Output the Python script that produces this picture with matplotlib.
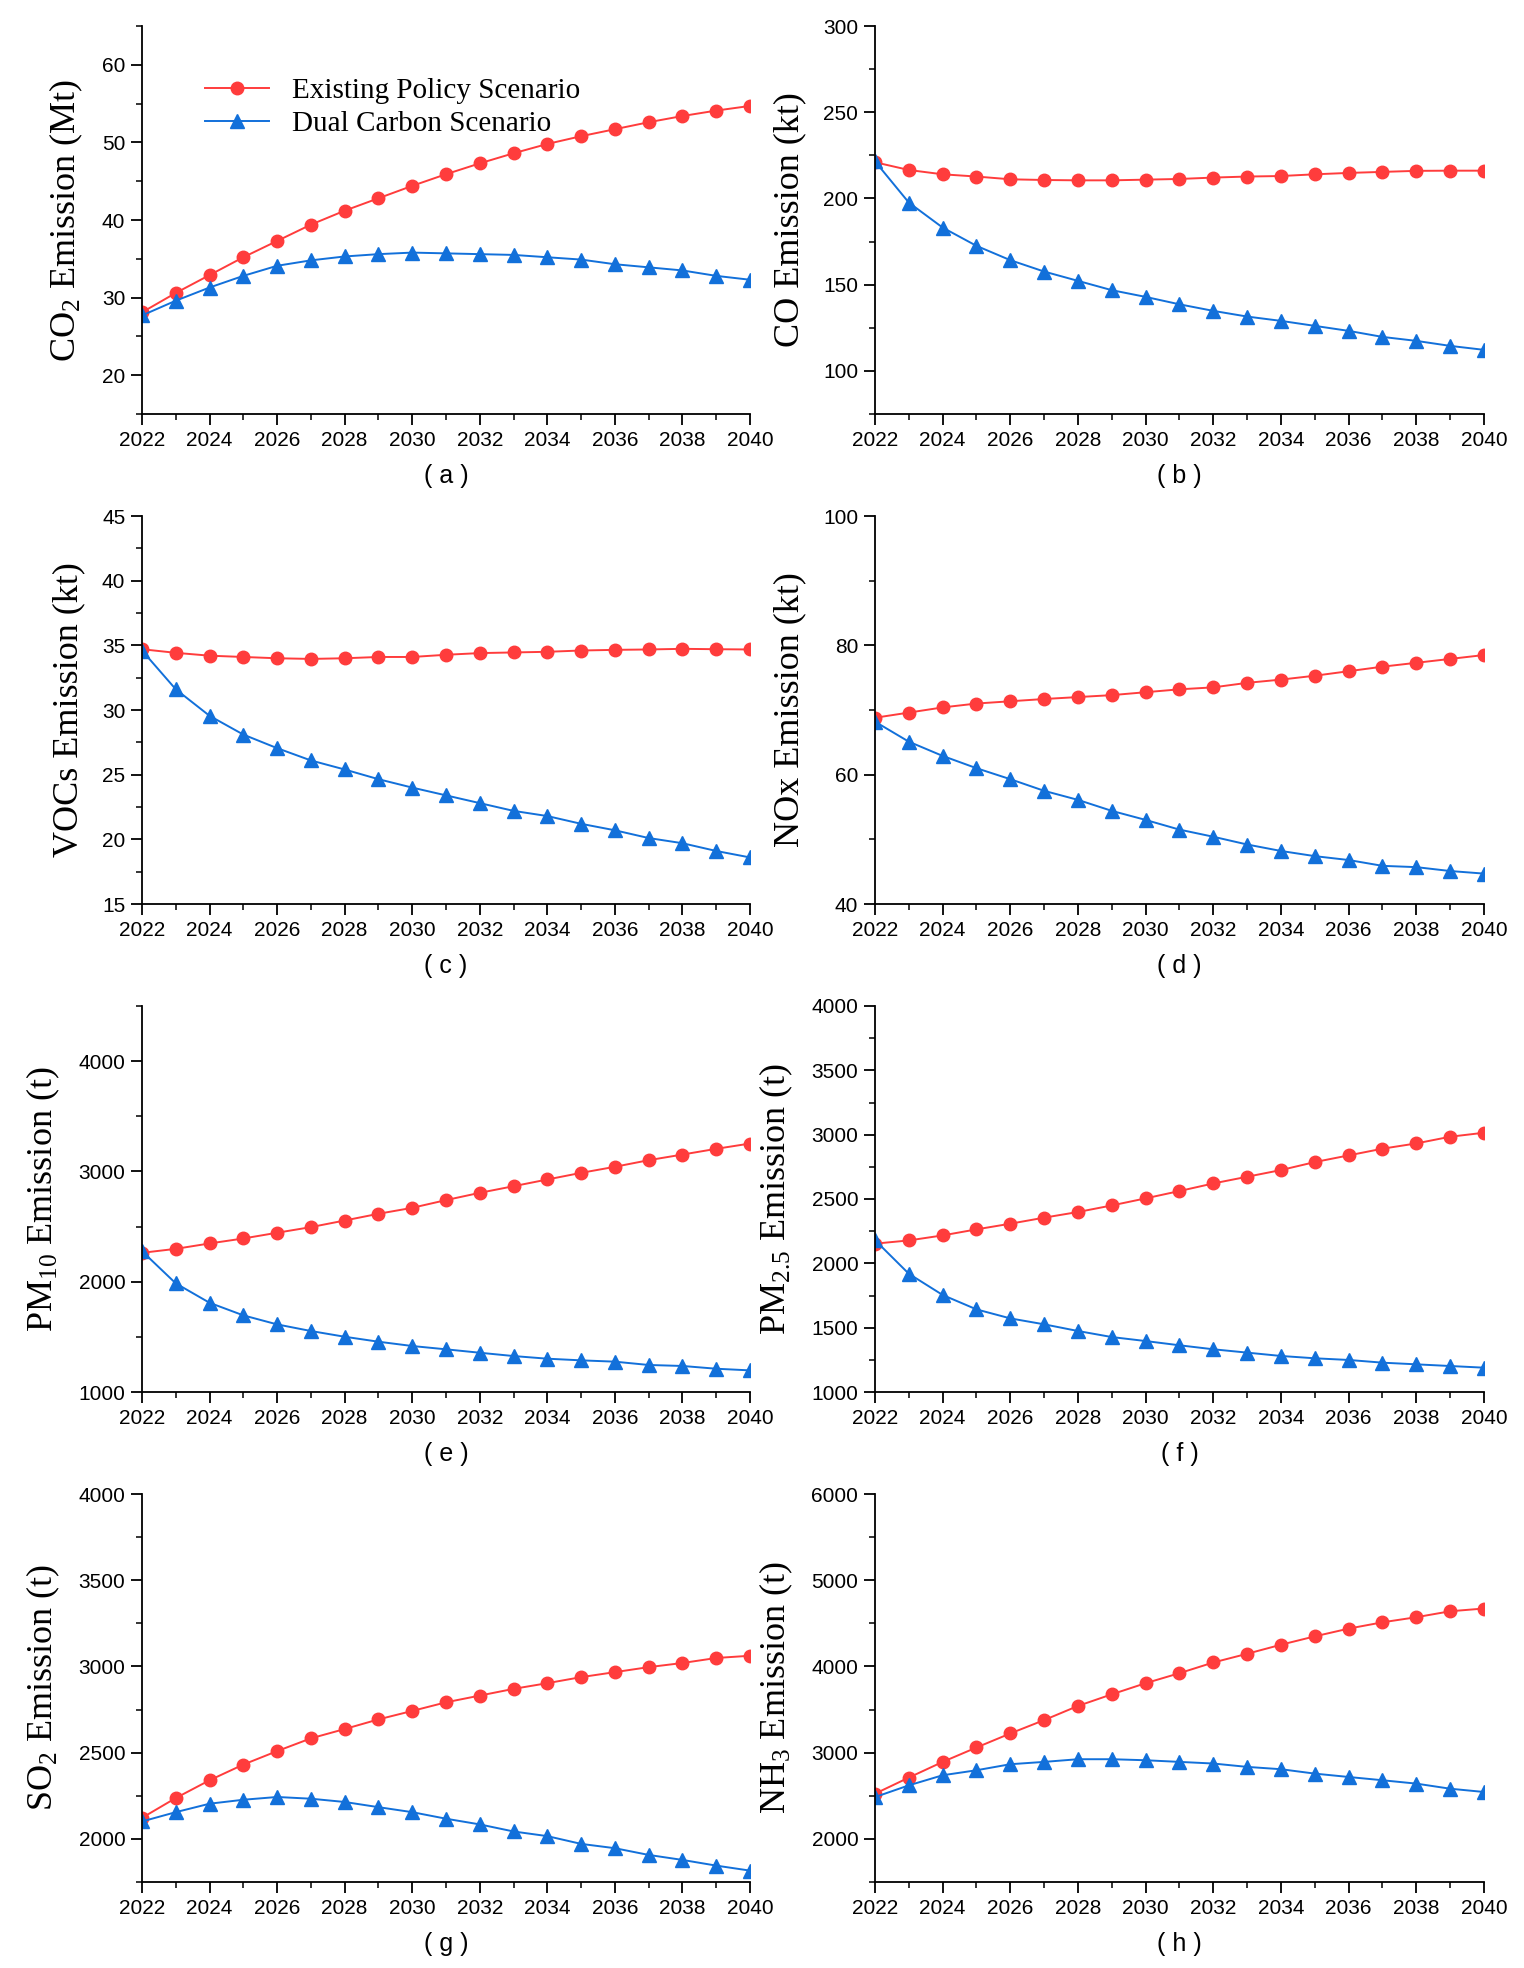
import numpy as np
import matplotlib
matplotlib.use('Agg')
import matplotlib.pyplot as plt
from matplotlib.ticker import MultipleLocator

plt.rcParams['font.family'] = ['Liberation Sans']
plt.rcParams['mathtext.fontset'] = 'custom'
plt.rcParams['mathtext.rm'] = 'Liberation Serif'
plt.rcParams['mathtext.it'] = 'Liberation Serif:italic'

#======================================================================
#    Values (2022-2040)
years = list(range(2022, 2041))

co2_eps = [28.1, 30.6, 32.9, 35.2, 37.3, 39.4, 41.2, 42.8, 44.4, 45.9,
           47.3, 48.6, 49.8, 50.8, 51.7, 52.6, 53.4, 54.1, 54.7]
co2_dcs = [27.7, 29.6, 31.3, 32.8, 34.1, 34.8, 35.3, 35.6, 35.8, 35.7,
           35.6, 35.5, 35.2, 34.9, 34.3, 33.9, 33.5, 32.8, 32.3]

co_eps = [221.0, 216.5, 214.0, 212.7, 211.1, 210.7, 210.5, 210.5, 210.9, 211.3,
          212.1, 212.7, 213.0, 214.0, 214.8, 215.4, 216.0, 216.1, 216.1]
co_dcs = [221.5, 197.6, 183.1, 172.5, 164.2, 157.6, 152.2, 146.8, 142.9, 138.6,
          134.8, 131.5, 129.0, 126.1, 123.2, 119.7, 117.4, 114.5, 112.2]

voc_eps = [34.7, 34.42, 34.2, 34.1, 34.0, 33.95, 34.0, 34.1, 34.1, 34.27,
           34.4, 34.45, 34.5, 34.6, 34.65, 34.68, 34.73, 34.7, 34.68]
voc_dcs = [34.6, 31.6, 29.55, 28.1, 27.05, 26.1, 25.4, 24.65, 24.0, 23.4,
           22.8, 22.2, 21.8, 21.2, 20.7, 20.1, 19.7, 19.1, 18.6]

nox_eps = [68.8, 69.6, 70.4, 71.0, 71.35, 71.7, 72.0, 72.3, 72.75, 73.2,
           73.5, 74.2, 74.7, 75.3, 76.0, 76.7, 77.3, 77.9, 78.5]
nox_dcs = [68.2, 65.1, 62.9, 61.0, 59.3, 57.5, 56.1, 54.4, 53.0, 51.5,
           50.4, 49.2, 48.2, 47.4, 46.8, 45.9, 45.7, 45.1, 44.7]

pm10_eps = [2262, 2298, 2347, 2392, 2444, 2495, 2555, 2616, 2670, 2740,
            2806, 2866, 2927, 2987, 3042, 3102, 3153, 3205, 3253]
pm10_dcs = [2277, 1985, 1809, 1695, 1613, 1553, 1501, 1456, 1417, 1387,
            1356, 1326, 1302, 1287, 1275, 1245, 1236, 1211, 1196]

pm25_eps = [2153, 2178, 2217, 2264, 2308, 2355, 2399, 2450, 2505, 2562,
            2621, 2673, 2725, 2787, 2839, 2891, 2932, 2984, 3015]
pm25_dcs = [2180, 1919, 1754, 1642, 1572, 1526, 1474, 1427, 1396, 1363,
            1332, 1306, 1280, 1262, 1249, 1228, 1215, 1202, 1189]

so2_eps = [2122, 2237, 2340, 2431, 2509, 2583, 2637, 2693, 2742, 2792,
           2831, 2870, 2903, 2938, 2967, 2996, 3020, 3049, 3062]
so2_dcs = [2101, 2155, 2204, 2227, 2243, 2233, 2214, 2184, 2155, 2117,
           2084, 2043, 2016, 1971, 1946, 1907, 1878, 1845, 1816]

nh3_eps = [2524, 2711, 2893, 3060, 3223, 3378, 3542, 3677, 3806, 3922,
           4046, 4147, 4252, 4349, 4439, 4512, 4571, 4640, 4672]
nh3_dcs = [2485, 2621, 2738, 2796, 2866, 2893, 2924, 2924, 2912, 2893,
           2874, 2835, 2808, 2757, 2718, 2680, 2641, 2582, 2544]

ylabels = ['CO$_{\\mathrm{2}}$ Emission (Mt)', 'CO Emission (kt)',
           'VOCs Emission (kt)', 'NOx Emission (kt)',
           'PM$_{\\mathrm{10}}$ Emission (t)', 'PM$_{\\mathrm{2.5}}$ Emission (t)',
           'SO$_{\\mathrm{2}}$ Emission (t)', 'NH$_{\\mathrm{3}}$ Emission (t)']
panel_tags = ['( a )', '( b )', '( c )', '( d )', '( e )', '( f )', '( g )', '( h )']
eps_data = [co2_eps, co_eps, voc_eps, nox_eps, pm10_eps, pm25_eps, so2_eps, nh3_eps]
dcs_data = [co2_dcs, co_dcs, voc_dcs, nox_dcs, pm10_dcs, pm25_dcs, so2_dcs, nh3_dcs]
# (ymin, ymax, major, minor)
yscales = [(15, 65, 10, 5), (75, 300, 50, 25), (15, 45, 5, 2.5), (40, 100, 20, 10),
           (1000, 4500, 1000, 500), (1000, 4000, 500, 250), (1750, 4000, 500, 250),
           (1500, 6000, 1000, 500)]

red = '#FF3C3C'
blue = '#1270DA'

#======================================================================
#    Layout (pixel boxes from the reference)
W, H = 1524, 1968
fig = plt.figure(figsize=(W / 100, H / 100), dpi=100)
col_x = [(142, 750), (875, 1484)]
row_y = [(26, 414), (516, 904), (1006, 1392), (1494, 1882)]

for k in range(8):
    r, c = divmod(k, 2)
    x0, x1 = col_x[c]
    y0, y1 = row_y[r]
    ax = fig.add_axes([x0 / W, 1 - y1 / H, (x1 - x0) / W, (y1 - y0) / H])

    ax.plot(years, eps_data[k], color=red, marker='o', markersize=9, lw=1.4,
            label='Existing Policy Scenario')
    ax.plot(years, dcs_data[k], color=blue, marker='^', markersize=9.5, lw=1.4,
            label='Dual Carbon Scenario')

    ymin, ymax, maj, mnr = yscales[k]
    ax.set_xlim(2022, 2040)
    ax.set_ylim(ymin, ymax)
    ax.xaxis.set_major_locator(MultipleLocator(2))
    ax.xaxis.set_minor_locator(MultipleLocator(1))
    ax.yaxis.set_major_locator(MultipleLocator(maj))
    ax.yaxis.set_minor_locator(MultipleLocator(mnr))
    if k == 0:
        ax.set_yticks([20, 30, 40, 50, 60])

    for side in ['top', 'right']:
        ax.spines[side].set_visible(False)
    for side in ['left', 'bottom']:
        ax.spines[side].set_linewidth(1.3)
    ax.tick_params(which='major', direction='out', length=8, width=1.3,
                   labelsize=15, pad=4)
    ax.tick_params(which='minor', direction='out', length=4.5, width=1.1)

    ax.set_ylabel(ylabels[k], family='Liberation Serif', fontsize=26, labelpad=12)
    ax.text(0.5, -62 / (y1 - y0), panel_tags[k], transform=ax.transAxes,
            ha='center', va='center', fontsize=18)

    if k == 0:
        ax.legend(loc='center left', bbox_to_anchor=(0.06, 0.79), frameon=False,
                  prop={'family': 'Liberation Serif', 'size': 21},
                  handlelength=2.2, labelspacing=0.22, handletextpad=0.8)

fig.savefig('out.png', dpi=100)
